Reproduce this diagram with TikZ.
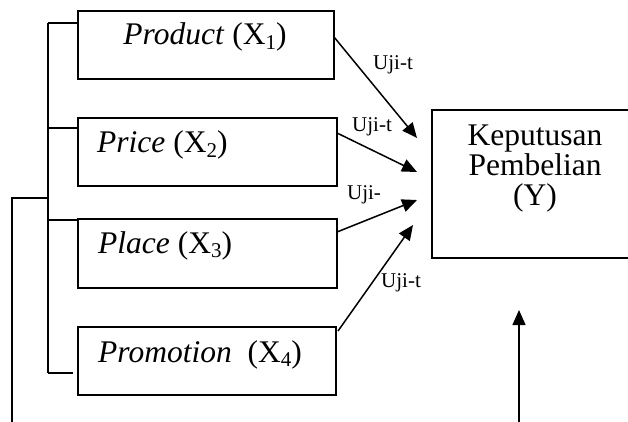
\documentclass[tikz,border=0pt]{standalone}
\usepackage{fontspec}
\setmainfont{Liberation Serif}
\usetikzlibrary{arrows.meta}
\newcommand\subx[1]{\raisebox{-4.5pt}{\fontsize{21}{21}\selectfont #1}}
\begin{document}
\begin{tikzpicture}[x=1pt,y=-1pt,
  box/.style={draw,line width=1.6pt,inner sep=0pt,anchor=north west},
  ln/.style={line width=1.5pt},
  arr/.style={line width=1.5pt,-{Triangle[length=15pt,width=13pt]}},
  big/.style={font=\fontsize{31.5}{30}\selectfont,inner sep=0pt},
  lab/.style={font=\fontsize{21}{21}\selectfont,inner sep=0pt}]
\useasboundingbox (0,0) rectangle (628,422);
\clip (0,0) rectangle (628,422);
% boxes
\node[box,minimum width=256pt,minimum height=68pt] (prod) at (77,10) {};
\node[box,minimum width=259pt,minimum height=68pt] (price) at (77,117) {};
\node[box,minimum width=259pt,minimum height=69pt] (place) at (77,218) {};
\node[box,minimum width=258pt,minimum height=68pt] (promo) at (77,326) {};
\node[box,minimum width=220pt,minimum height=148pt] (y) at (431,109) {};
% texts
\node[big,anchor=base] (tprod) at (205,45) {\textit{Product} (X\subx{1})};
\node[big,anchor=base west] (tprice) at (97,153) {\textit{Price} (X\subx{2})};
\node[big,anchor=base west] (tplace) at (98,253) {\textit{Place} (X\subx{3})};
\node[big,anchor=base west] (tpromo) at (98,362) {\textit{Promotion}\ \ (X\subx{4})};
\node[big,anchor=north,align=center] (ty) at (535,124.5) {Keputusan\\Pembelian\\(Y)};
% bracket
\coordinate (bt) at (48,23);
\coordinate (bb) at (48,373);
\coordinate (s2) at (48,128);
\coordinate (s3) at (48,220);
\coordinate (s4e) at (73,373);
\draw[ln] (bt) -- (bb);
\draw[ln] (bt) -- (bt -| prod.west);
\draw[ln] (s2) -- (s2 -| price.west);
\draw[ln] (s3) -- (s3 -| place.west);
\draw[ln] (bb) -- (s4e);
% outer line
\coordinate (o1) at (12,198);
\coordinate (o2) at (12,422);
\draw[ln] (o2) -- (o1) -- (o1 -| bt);
% arrows
\coordinate (a1s) at (334,37);  \coordinate (a1e) at (417,138);
\coordinate (a2s) at (337,133); \coordinate (a2e) at (417,172);
\coordinate (a3s) at (337,232); \coordinate (a3e) at (417,200);
\coordinate (a4s) at (338,331); \coordinate (a4e) at (413,225);
\coordinate (a5s) at (519,422); \coordinate (a5e) at (519,310);
\draw[arr] (a1s) -- (a1e);
\draw[arr] (a2s) -- (a2e);
\draw[arr] (a3s) -- (a3e);
\draw[arr] (a4s) -- (a4e);
\draw[arr] (a5s) -- (a5e);
% labels
\node[lab] (l1) at (393,65) {Uji-t};
\node[lab] (l2) at (372,127) {Uji-t};
\node[lab] (l3) at (364,195) {Uji-};
\node[lab] (l4) at (401,283) {Uji-t};
\end{tikzpicture}
\end{document}
